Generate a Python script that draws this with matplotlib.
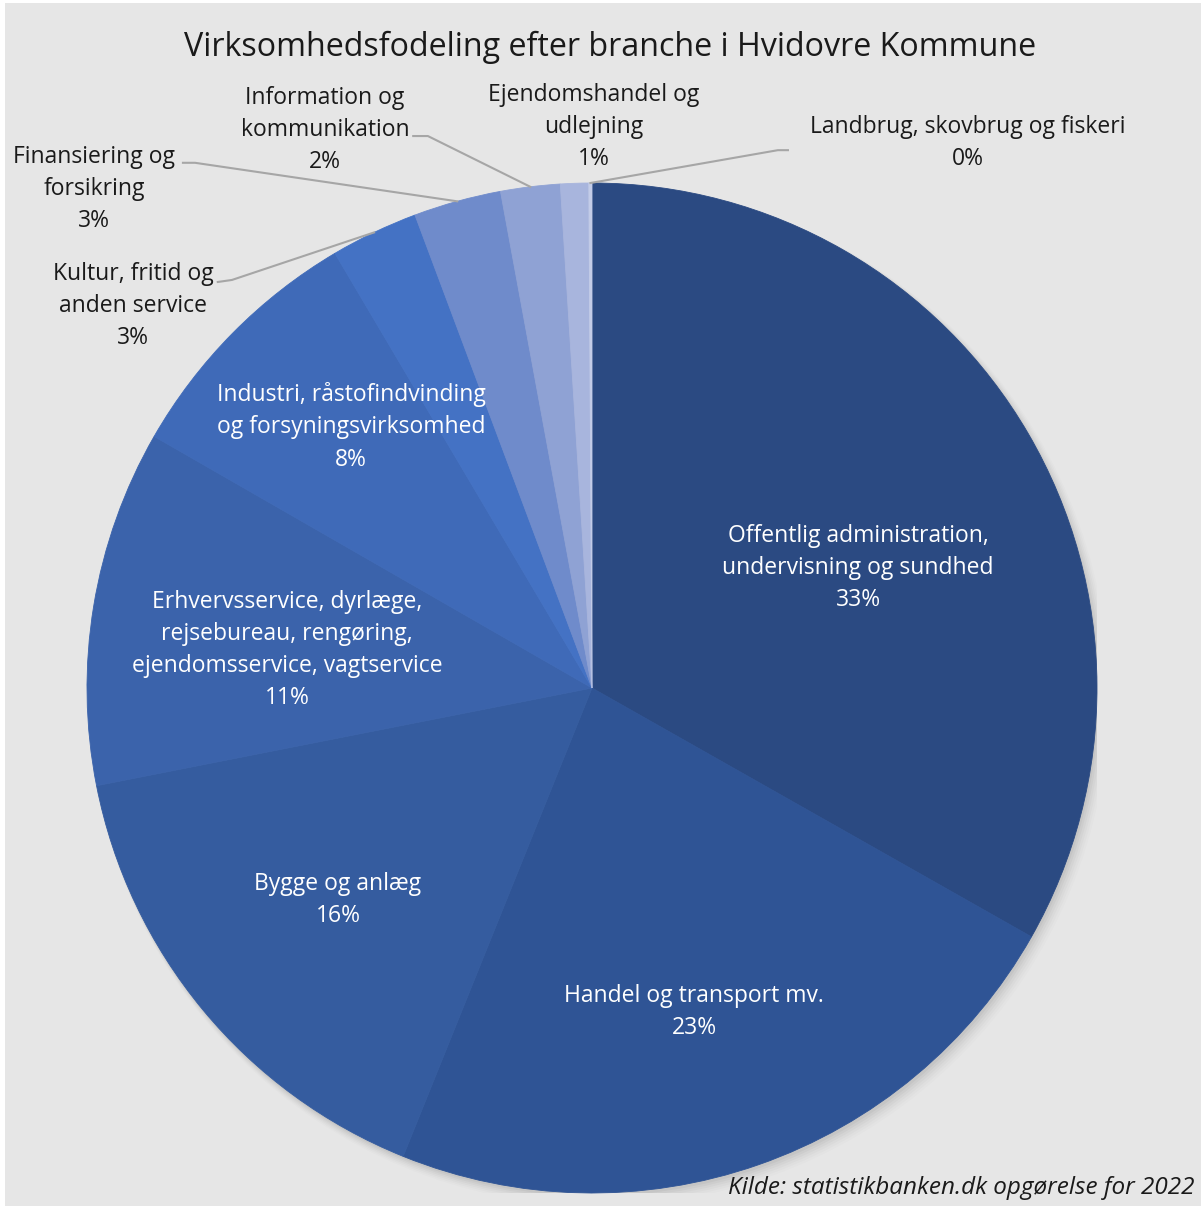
import matplotlib
matplotlib.use("Agg")
import matplotlib.pyplot as plt
from matplotlib.patches import Circle
import numpy as np

# ---- data ----
categories = [
    "Offentlig administration,\nundervisning og sundhed",
    "Handel og transport mv.",
    "Bygge og anlæg",
    "Erhvervsservice, dyrlæge,\nrejsebureau, rengøring,\nejendomsservice, vagtservice",
    "Industri, råstofindvinding\nog forsyningsvirksomhed",
    "Kultur, fritid og\nanden service",
    "Finansiering og\nforsikring",
    "Information og\nkommunikation",
    "Ejendomshandel og\nudlejning",
    "Landbrug, skovbrug og fiskeri",
]
shares = [33.2, 22.9, 15.8, 11.4, 8.2, 2.8, 2.8, 1.9, 0.9, 0.1]
colors = ["#2B4A82", "#2F5495", "#355C9F", "#3B63AB", "#3F6AB8",
          "#4472C4", "#6F8BCB", "#8FA2D4", "#A8B5DD", "#C3CCE8"]

title = "Virksomhedsfodeling efter branche i Hvidovre Kommune"
source = "Kilde: statistikbanken.dk opgørelse for 2022"

# ---- layout (label placement in pie radius units) ----
inside_pos = {0: (0.527, 0.238), 1: (0.202, -0.642), 2: (-0.503, -0.420),
              3: (-0.604, 0.075), 4: (-0.477, 0.517)}
outside_pos = {5: (-0.909, 0.756), 6: (-0.986, 0.988), 7: (-0.529, 1.105),
               8: (0.004, 1.111), 9: (0.745, 1.079)}
# (elbow point, end point near label) for leader lines
leaders = {5: ((-0.713, 0.808), (-0.741, 0.804)),
           6: ((-0.786, 1.040), (-0.810, 1.040)),
           7: ((-0.325, 1.093), (-0.354, 1.093)),
           9: ((0.368, 1.065), (0.388, 1.065))}

plt.rcParams['font.family'] = ['Open Sans', 'DejaVu Sans']

W, H = 1201, 1206
fig = plt.figure(figsize=(W / 100, H / 100), dpi=100)
fig.patch.set_facecolor("white")
bg = fig.add_axes([5 / W, 0, 1 - 5 / W, 1 - 3 / H], zorder=-10)
bg.set_facecolor("#E6E6E6")
bg.set_xticks([]); bg.set_yticks([])
for s in bg.spines.values():
    s.set_visible(False)

cx, cy, R = 592, 688, 505
ax = fig.add_axes([(cx - R) / W, (H - cy - R) / H, 2 * R / W, 2 * R / H], zorder=1)
ax.axis("off")

# soft shadow
for i, a in enumerate(np.linspace(0.03, 0.01, 6)):
    ax.add_patch(Circle((0.004 + 0.002 * i, -0.006 - 0.002 * i), 1.0 + 0.002 * i,
                        facecolor="black", alpha=a, edgecolor="none", zorder=0))

total = sum(shares)
wedges, _ = ax.pie(shares, colors=colors, startangle=90, counterclock=False,
                   radius=1.0, center=(0, 0), frame=False,
                   wedgeprops=dict(linewidth=0.6, zorder=2))
for w, c in zip(wedges, colors):
    w.set_edgecolor(c)
ax.set_aspect("auto")
ax.set_xlim(-1, 1)
ax.set_ylim(-1, 1)

fs = 16.5
ls = 1.45
for i, (cat, v) in enumerate(zip(categories, shares)):
    txt = f"{cat}\n{v / total * 100:.0f}%"
    if i in inside_pos:
        x, y = inside_pos[i]
        ax.text(x, y, txt, ha="center", va="center", color="white",
                fontsize=fs, linespacing=ls, zorder=5)
    else:
        x, y = outside_pos[i]
        ax.text(x, y, txt, ha="center", va="center", color="#1a1a1a",
                fontsize=fs, linespacing=ls, zorder=5, clip_on=False)
    if i in leaders:
        w = wedges[i]
        mid = np.deg2rad((w.theta1 + w.theta2) / 2)
        ex, ey = np.cos(mid), np.sin(mid)
        (bx, by), (lx, ly) = leaders[i]
        ax.plot([ex, bx, lx], [ey, by, ly], color="#A6A6A6", lw=1.5,
                clip_on=False, zorder=4)

fig.text(610 / W, 1 - 47 / H, title, ha="center", va="center",
         fontsize=23.2, color="#1a1a1a")
fig.text(1195 / W, 1 - 1188 / H, source, ha="right", va="center",
         fontsize=17.5, style="italic", color="#1a1a1a")

fig.savefig("out.png", dpi=100, facecolor=fig.get_facecolor())
